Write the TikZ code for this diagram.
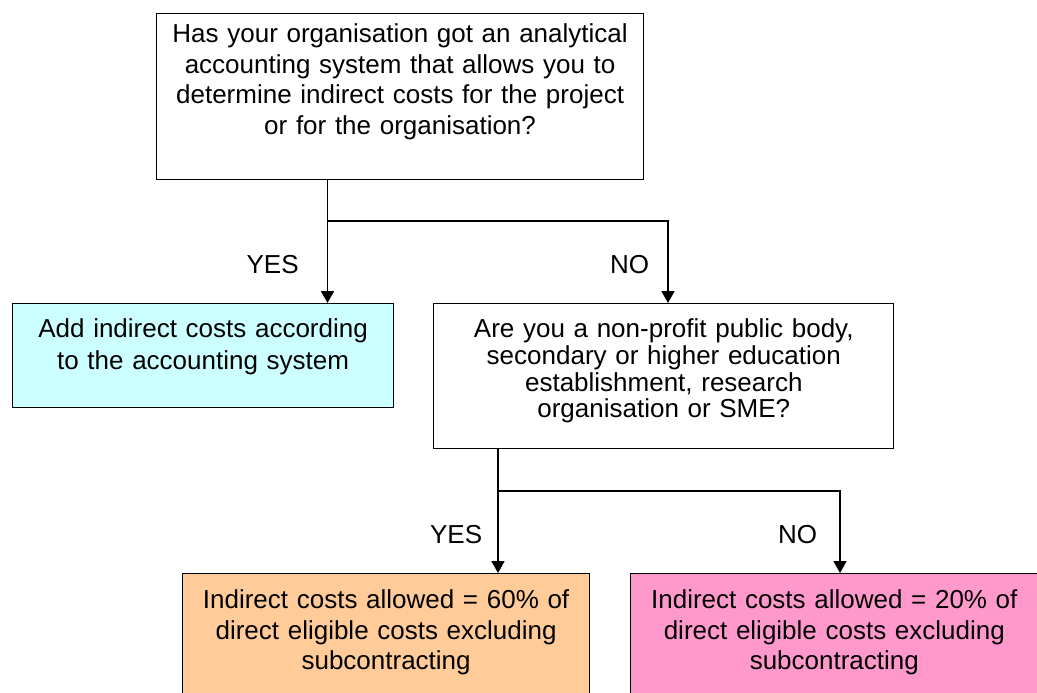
\documentclass[tikz,border=0pt]{standalone}
\usepackage{fontspec}
\setmainfont{Liberation Sans}
\usepackage{tikz}
\usetikzlibrary{arrows.meta,positioning}
\definecolor{AccCyan}{HTML}{CCFFFF}
\definecolor{RateOrange}{HTML}{FFCC99}
\definecolor{RatePink}{HTML}{FF99CC}

\begin{document}
\begin{tikzpicture}[x=1pt,y=1pt,
    qbox/.style={draw,line width=1.2pt,inner sep=0pt,align=center,anchor=north west},
    flow/.style={line width=1.8pt,-{Triangle[length=12pt,width=13pt]}},
    answer/.style={inner sep=0pt}]
      \fontsize{26}{30.5}\selectfont
      \useasboundingbox (0,0) rectangle (1037,-693);
      \clip (0,0) rectangle (1037,-693);

      % Top: the first question
      \node[qbox,text width=487pt,text height=29pt,text depth=137pt] (q1) at (156,-13)
        {Has your organisation got an analytical\\ accounting system that allows you to\\
         determine indirect costs for the project\\ or for the organisation?};

      % Middle: yes -> accounting system, no -> second question
      \node[qbox,fill=AccCyan,text width=381pt,text height=34pt,text depth=70pt,
            font=\fontsize{26}{31.7}\selectfont] (acc) at (12,-303)
        {Add indirect costs according\\ to the accounting system};
      \node[qbox,text width=460pt,text height=34pt,text depth=111pt,
            font=\fontsize{26}{26.7}\selectfont,
            right=39pt of acc.north east,anchor=north west] (q2)
        {Are you a non-profit public body,\\ secondary or higher education\\
         establishment, research\\ organisation or SME?};

      % Bottom: the two flat rates
      \node[qbox,fill=RateOrange,text width=407pt,text height=35pt,text depth=130pt] (rate60) at (182,-573)
        {Indirect costs allowed = 60\% of\\ direct eligible costs excluding\\ subcontracting};
      \node[qbox,fill=RatePink,text width=407pt,text height=35pt,text depth=130pt,
            right=40pt of rate60.north east,anchor=north west] (rate20)
        {Indirect costs allowed = 20\% of\\ direct eligible costs excluding\\ subcontracting};

      % Connectors
      \coordinate (split1) at (327.5,-221);
      \coordinate (nojoin1) at (668,-221);
      \coordinate (split2) at (498,-491);
      \coordinate (nojoin2) at (840,-491);

      \draw[line width=1.8pt] (q1.south -| split1) -- (split1);
      \draw[flow] (split1) -- node[answer,left=28pt,yshift=-3pt]{YES} (split1 |- acc.north);
      \draw[flow] (split1) -- (nojoin1) -- node[answer,left=18pt,yshift=-3pt]{NO} (nojoin1 |- q2.north);

      \draw[line width=1.8pt] (q2.south -| split2) -- (split2);
      \draw[flow] (split2) -- node[answer,left=15pt,yshift=-3pt]{YES} (split2 |- rate60.north);
      \draw[flow] (split2) -- (nojoin2) -- node[answer,left=22pt,yshift=-3pt]{NO} (nojoin2 |- rate20.north);

    \end{tikzpicture}
\end{document}
